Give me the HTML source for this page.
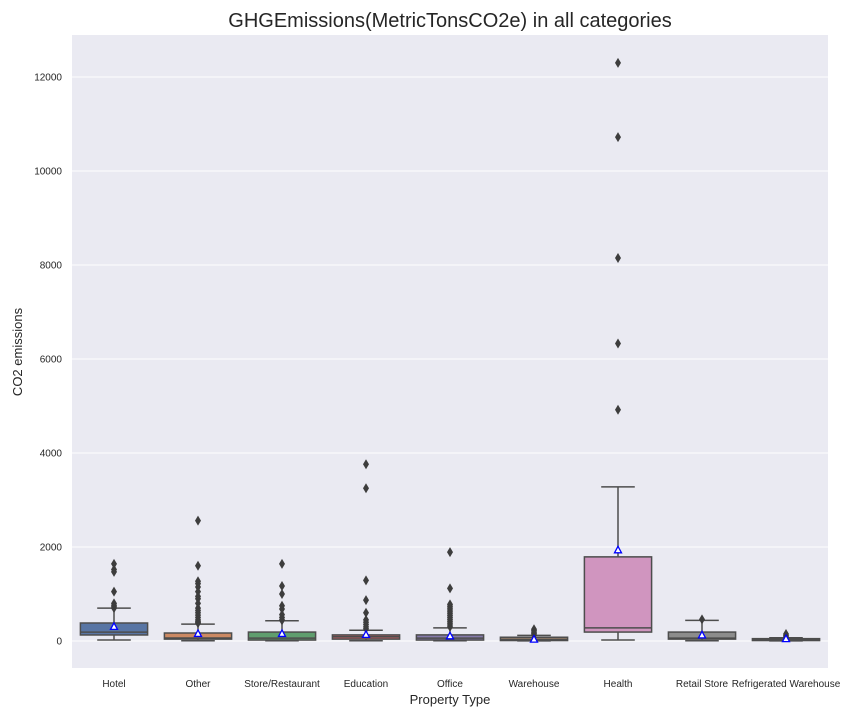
<!DOCTYPE html>
<html><head><meta charset="utf-8"><style>
body{margin:0;background:#fff;font-family:"Liberation Sans",sans-serif;}
</style></head><body>
<svg id="c" width="864" height="720" xmlns="http://www.w3.org/2000/svg" font-family="Liberation Sans, sans-serif"></svg>
<script>
const categories=["Hotel","Other","Store/Restaurant","Education","Office","Warehouse","Health","Retail Store","Refrigerated Warehouse"];
const q1=[128,40,20,40,20,10,190,40,10];
const medians=[190,65,60,90,60,30,280,60,30];
const q3=[383,170,190,130,130,80,1790,190,50];
const whiskLo=[20,5,5,5,5,2,20,5,2];
const whiskHi=[700,360,430,230,280,120,3280,440,70];
const means=[300,150,150,130,100,30,1930,120,40];
const outliers=[
 [1640,1520,1470,1050,800,760,730,700],
 [2560,1600,1270,1220,1150,1050,950,900,800,700,650,600,550,500,450,420,400,380],
 [1640,1170,1000,750,680,560,500,450,440],
 [3760,3250,1290,870,600,450,400,350,300,260],
 [1890,1120,780,740,700,660,620,580,540,500,460,420,380,340,300],
 [250,220,190,160,130],
 [12300,10720,8150,6330,4920],
 [460],
 [150,120,90]];
const colors=["#5875a4","#cc8963","#5f9e6e","#b55d60","#857aab","#8d7866","#d095bf","#8c8c8c","#c1b37f"];
const yTicks=[0,2000,4000,6000,8000,10000,12000];
const L=72,R=828,T=35,B=668;
const y=v=>641-v*0.047;
const step=(R-L)/categories.length;
const x=i=>L+step*(i+0.5);
const svg=document.getElementById('c');
const NS="http://www.w3.org/2000/svg";
function mk(t,a,p){const e=document.createElementNS(NS,t);for(const k in a)e.setAttribute(k,a[k]);(p||svg).appendChild(e);return e;}
const bg=mk('rect',{x:L,y:T,width:R-L,height:B-T,fill:'#eaeaf2'});


yTicks.forEach(v=>{
 const g=mk('line',{x1:L,x2:R,y1:y(v),y2:y(v),stroke:'#fff','stroke-width':1});
 
 
 const t=mk('text',{x:L-10,y:y(v)+3.5,'text-anchor':'end','font-size':10,fill:'#262626'});
 t.textContent=v;
 
 
});
const bw=step*0.8;
categories.forEach((c,i)=>{
 const cx=x(i);
 const g=mk('g',{});
 
 
 const st={stroke:'#4d4d4d','stroke-width':1.5};
 mk('line',Object.assign({x1:cx,x2:cx,y1:y(q3[i]),y2:y(whiskHi[i])},st),g);
 mk('line',Object.assign({x1:cx,x2:cx,y1:y(q1[i]),y2:y(whiskLo[i])},st),g);
 mk('line',Object.assign({x1:cx-bw/4,x2:cx+bw/4,y1:y(whiskHi[i]),y2:y(whiskHi[i])},st),g);
 mk('line',Object.assign({x1:cx-bw/4,x2:cx+bw/4,y1:y(whiskLo[i]),y2:y(whiskLo[i])},st),g);
 mk('rect',Object.assign({x:cx-bw/2,y:y(q3[i]),width:bw,height:Math.max(1,y(q1[i])-y(q3[i])),fill:colors[i]},st),g);
 mk('line',Object.assign({x1:cx-bw/2,x2:cx+bw/2,y1:y(medians[i]),y2:y(medians[i])},st),g);
 outliers[i].forEach(v=>{
  const d=mk('path',{d:`M${cx} ${y(v)-5}L${cx+3} ${y(v)}L${cx} ${y(v)+5}L${cx-3} ${y(v)}Z`,fill:'#3d3d3d'},g);
  
  
 });
 const my=y(means[i]);
 const m=mk('path',{d:`M${cx} ${my-4}L${cx+3.5} ${my+2.5}L${cx-3.5} ${my+2.5}Z`,fill:'#fff',stroke:'#0000ff','stroke-width':1.3},g);
 
 
 const t=mk('text',{x:cx,y:687,'text-anchor':'middle','font-size':10,fill:'#262626'});
 t.textContent=c;
 
 
});
const ti=mk('text',{x:450,y:27,'text-anchor':'middle','font-size':20,fill:'#262626'});
ti.textContent='GHGEmissions(MetricTonsCO2e) in all categories';


const xt=mk('text',{x:450,y:704,'text-anchor':'middle','font-size':13,fill:'#262626'});
xt.textContent='Property Type';


const yt=mk('text',{x:22,y:352,'text-anchor':'middle','font-size':13,fill:'#262626',transform:'rotate(-90 22 352)'});
yt.textContent='CO2 emissions';


</script>
</body></html>
